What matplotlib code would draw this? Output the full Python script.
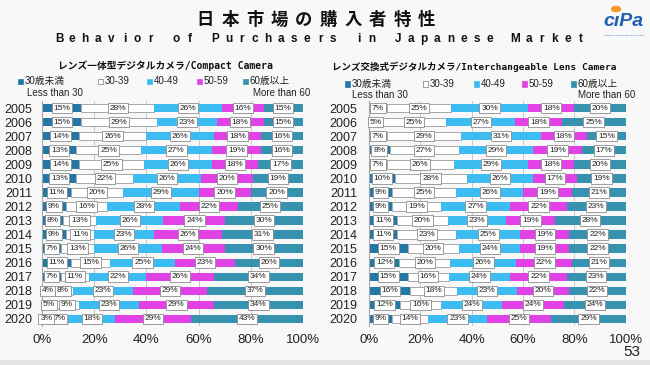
import matplotlib
matplotlib.use("Agg")
from matplotlib import pyplot as plt
from matplotlib.patches import Rectangle, Circle
import numpy as np

plt.rcParams['font.family'] = ['Liberation Sans', 'Noto Sans CJK JP', 'DejaVu Sans']

# data (percent shares per year)
years = [str(y) for y in range(2005, 2021)]
age_groups = ["30歳未満", "30-39", "40-49", "50-59", "60歳以上"]

compact_u30 = [15, 15, 14, 13, 14, 13, 11, 9, 8, 9, 7, 11, 7, 4, 5, 3]
compact_30s = [28, 29, 26, 25, 25, 22, 20, 16, 13, 11, 13, 15, 11, 8, 9, 7]
compact_40s = [26, 23, 26, 27, 26, 26, 29, 28, 26, 23, 26, 25, 22, 23, 23, 18]
compact_50s = [16, 18, 18, 19, 18, 20, 20, 22, 24, 26, 24, 23, 26, 29, 29, 29]
compact_o60 = [15, 15, 16, 16, 17, 19, 20, 25, 30, 31, 30, 26, 34, 37, 34, 43]

ilc_u30 = [7, 5, 7, 8, 7, 10, 9, 9, 11, 11, 15, 12, 15, 16, 12, 9]
ilc_30s = [25, 25, 29, 27, 26, 28, 25, 19, 20, 23, 20, 20, 16, 18, 16, 14]
ilc_40s = [30, 27, 31, 29, 29, 26, 26, 27, 23, 25, 24, 26, 24, 23, 24, 23]
ilc_50s = [18, 18, 18, 19, 18, 17, 19, 22, 19, 19, 19, 22, 22, 20, 24, 25]
ilc_o60 = [20, 25, 15, 17, 20, 19, 21, 23, 28, 22, 22, 21, 23, 22, 24, 29]

colors = ["#2478a6", "white", "#3cbcf0", "#e042e6", "#3792b0"]

W, H = 650.0, 365.0


def fx(x):
    return x / W


def fy(y):
    return 1 - y / H


def draw_panel(ax, series, ypad):
    arr = np.array(series, dtype=float)
    share = arr / arr.sum(axis=0) * 100
    ypos = np.arange(len(years))
    left = np.zeros(len(years))
    for k in range(len(series)):
        ec = '#9a9a9a' if k == 1 else 'none'
        ax.barh(ypos, share[k], left=left, height=0.6, color=colors[k],
                edgecolor=ec, linewidth=0.6, zorder=2)
        for i in range(len(years)):
            ax.text(left[i] + share[k][i] / 2, ypos[i], f"{series[k][i]}%",
                    ha='center', va='center', fontsize=6, color='#222222',
                    bbox=dict(boxstyle='square,pad=0.22', fc='white', ec='#8c8c8c', lw=0.6),
                    zorder=10 - k)
        left += share[k]

    ax.set_xlim(0, 100)
    ax.set_ylim(len(years) - 0.5, -0.5)
    ax.set_xticks([0, 20, 40, 60, 80, 100])
    ax.set_xticklabels(["0%", "20%", "40%", "60%", "80%", "100%"])
    ax.set_yticks(ypos)
    ax.set_yticklabels(years)
    ax.tick_params(axis='x', length=0, labelsize=9.5, pad=6, colors='#222222')
    ax.tick_params(axis='y', length=0, labelsize=9, pad=ypad, colors='#222222')
    ax.grid(axis='x', color='#c8c8c8', lw=0.7)
    ax.set_axisbelow(True)
    for s in ['top', 'right', 'bottom']:
        ax.spines[s].set_visible(False)
    ax.spines['left'].set_color('#a8a8a8')
    ax.set_facecolor('none')


def draw_legend(fig, xs, y_row, y_row2, less_x, more_x):
    for k, lab in enumerate(age_groups):
        ec = '#777777' if k == 1 else colors[k]
        fig.patches.append(Rectangle((fx(xs[k]), fy(y_row + 2.5)), 5 / W, 5 / H,
                                     transform=fig.transFigure, fc=colors[k], ec=ec,
                                     lw=0.5, zorder=3))
        fig.text(fx(xs[k] + 6.5), fy(y_row), lab, fontsize=7, color='#222222', va='center')
    fig.text(fx(less_x), fy(y_row2), "Less than 30", fontsize=7, color='#222222', va='center')
    fig.text(fx(more_x), fy(y_row2), "More than 60", fontsize=7, color='#222222', va='center')


def main():
    fig = plt.figure(figsize=(6.5, 3.65), dpi=100)
    fig.patch.set_facecolor('#f8f8f8')
    fig.patches.append(Rectangle((0, 0), 1, fy(360), transform=fig.transFigure,
                                 color='#e4e4e4', zorder=0))

    # main title, spaced out like the slide
    title = "日本市場の購入者特性"
    for i, ch in enumerate(title):
        fig.text(fx(205.5 + i * 24.56), fy(20), ch, fontsize=12.5, fontweight='bold',
                 family='Noto Sans CJK JP', ha='center', va='center', color='#111111')

    sub = "Behavior of Purchasers in Japanese Market"
    x = 59.0
    for word in sub.split(" "):
        for ch in word:
            fig.text(fx(x), fy(39), ch, fontsize=8.5, fontweight='bold',
                     ha='center', va='center', color='#111111')
            x += 13.1
        x += 25.8 - 13.1

    # logo
    fig.text(fx(603), fy(22), "cıPa", fontsize=14, fontweight='bold', style='italic',
             color='#1d5fb0', va='center', family='Liberation Sans')
    fig.patches.append(Circle((fx(616), fy(9)), 4.5 / W, transform=fig.transFigure,
                              color='#f39a2a', zorder=3))
    fig.text(fx(624), fy(35), "Camera & Imaging Products Association", fontsize=1.6,
             color='#1d5fb0', ha='center', va='center')

    # panel titles
    fig.text(fx(165), fy(66), "レンズ一体型デジタルカメラ/Compact Camera", fontsize=7,
             fontweight='bold', family=['DejaVu Sans Mono', 'Noto Sans CJK JP'],
             ha='center', va='center', color='#111111')
    fig.text(fx(474), fy(67), "レンズ交換式デジタルカメラ/Interchangeable Lens Camera", fontsize=6.8,
             fontweight='bold', family=['DejaVu Sans Mono', 'Noto Sans CJK JP'],
             ha='center', va='center', color='#111111')

    draw_legend(fig, [18, 98, 147, 197, 243], 81, 93, 27, 253)
    draw_legend(fig, [345, 423, 474, 522, 571], 84, 95, 352, 578)

    ax1 = fig.add_axes([fx(42.3), fy(326), (302.7 - 42.3) / W, 225 / H])
    draw_panel(ax1, [compact_u30, compact_30s, compact_40s, compact_50s, compact_o60], 7)

    ax2 = fig.add_axes([fx(369), fy(326), (625.7 - 369) / W, 225 / H])
    draw_panel(ax2, [ilc_u30, ilc_30s, ilc_40s, ilc_50s, ilc_o60], 8.5)

    fig.text(fx(640), fy(352), "53", fontsize=11, ha='right', va='center', color='#222222')

    fig.savefig("out.png", dpi=100, facecolor=fig.get_facecolor())


if __name__ == "__main__":
    main()
